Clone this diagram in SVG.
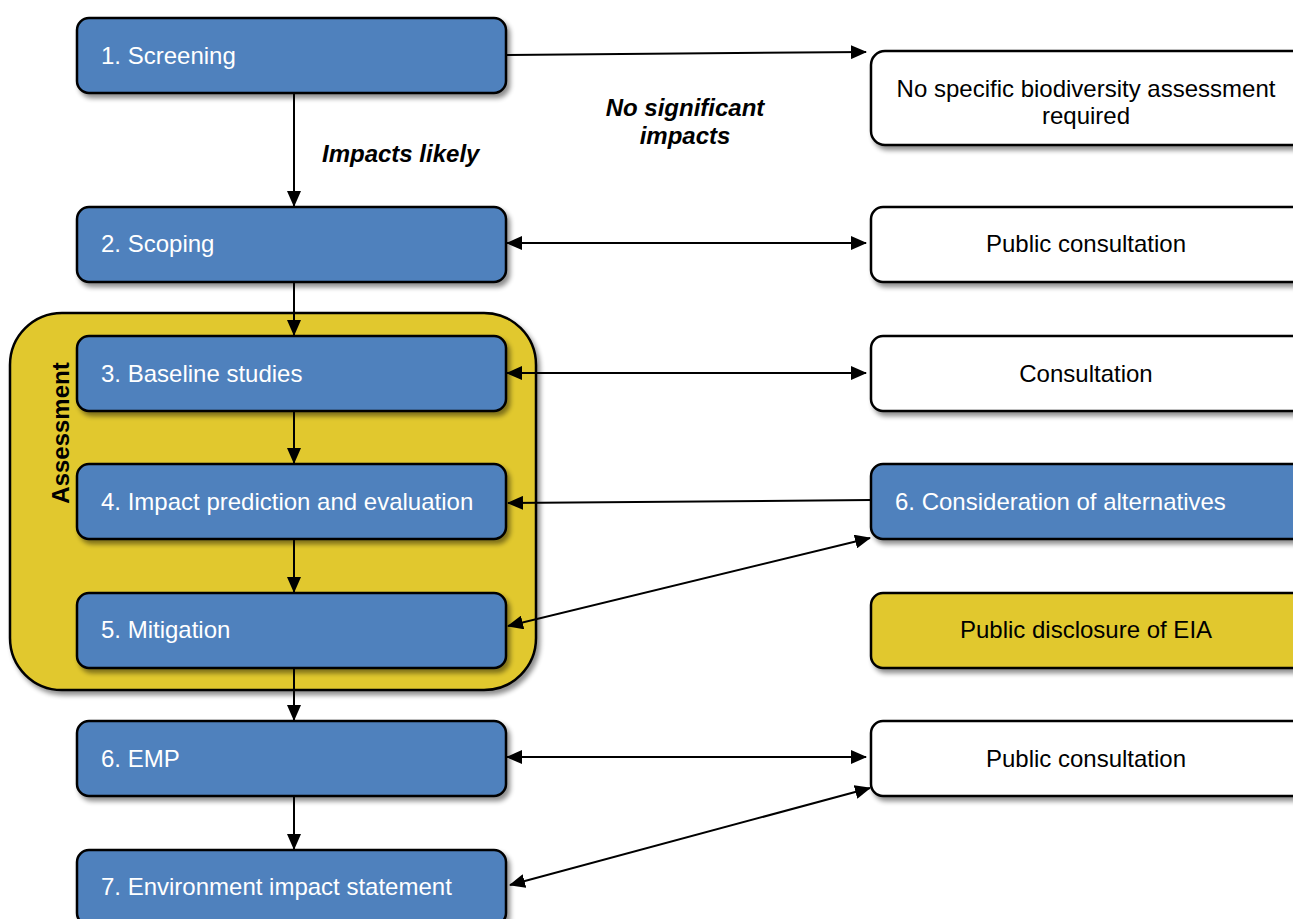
<svg xmlns="http://www.w3.org/2000/svg" width="1293" height="919" viewBox="0 0 1293 919">
<style>
.box{stroke:#000;stroke-width:2.5;filter:url(#sh)}
.blue{fill:#4F81BD}
.white{fill:#fff}
.yellow{fill:#E1C82E}
.lt{font-family:"Liberation Sans",Arial,sans-serif;font-size:24px;fill:#fff}
.rt{font-family:"Liberation Sans",Arial,sans-serif;font-size:24px;fill:#000;text-anchor:middle}
.lbl{font-family:"Liberation Sans",Arial,sans-serif;font-size:24px;font-weight:bold;font-style:italic;fill:#000}
.con{stroke:#000;stroke-width:2;fill:none}
</style>
<defs>
<filter id="sh" x="-10%" y="-20%" width="130%" height="150%">
<feGaussianBlur in="SourceAlpha" stdDeviation="2.5"/>
<feOffset dx="3" dy="4" result="b"/>
<feComponentTransfer><feFuncA type="linear" slope="0.45"/></feComponentTransfer>
<feMerge><feMergeNode/><feMergeNode in="SourceGraphic"/></feMerge>
</filter>
<marker id="a" viewBox="0 0 16 14" refX="15" refY="7" markerWidth="16" markerHeight="14" orient="auto-start-reverse" markerUnits="userSpaceOnUse">
<path d="M0,0 L16,7 L0,14 z" fill="#000"/>
</marker>
</defs>
<rect width="1293" height="919" fill="#fff"/>

<g id="assessment">
<rect class="box yellow" x="10" y="313" width="526" height="377" rx="52"/>
<text transform="translate(69,433) rotate(-90)" font-family="Liberation Sans,Arial,sans-serif" font-size="24" font-weight="bold" text-anchor="middle" fill="#000">Assessment</text>
</g>

<g id="n1"><rect class="box blue" x="77" y="18" width="429" height="75" rx="12"/><text class="lt" x="101" y="64">1. Screening</text></g>
<g id="n2"><rect class="box blue" x="77" y="207" width="429" height="75" rx="12"/><text class="lt" x="101" y="252">2. Scoping</text></g>
<g id="n3"><rect class="box blue" x="77" y="336" width="429" height="75" rx="12"/><text class="lt" x="101" y="382">3. Baseline studies</text></g>
<g id="n4"><rect class="box blue" x="77" y="464" width="429" height="75" rx="12"/><text class="lt" x="101" y="510">4. Impact prediction and evaluation</text></g>
<g id="n5"><rect class="box blue" x="77" y="593" width="429" height="75" rx="12"/><text class="lt" x="101" y="638">5. Mitigation</text></g>
<g id="n6"><rect class="box blue" x="77" y="721" width="429" height="75" rx="12"/><text class="lt" x="101" y="767">6. EMP</text></g>
<g id="n7"><rect class="box blue" x="77" y="850" width="429" height="75" rx="12"/><text class="lt" x="101" y="895">7. Environment impact statement</text></g>

<g id="r1"><rect class="box white" x="871" y="51" width="440" height="94" rx="14"/><text class="rt" x="1086" y="97">No specific biodiversity assessment</text><text class="rt" x="1086" y="124">required</text></g>
<g id="r2"><rect class="box white" x="871" y="207" width="440" height="75" rx="12"/><text class="rt" x="1086" y="252">Public consultation</text></g>
<g id="r3"><rect class="box white" x="871" y="336" width="440" height="75" rx="12"/><text class="rt" x="1086" y="382">Consultation</text></g>
<g id="r4"><rect class="box blue" x="871" y="464" width="440" height="75" rx="12"/><text class="lt" x="895" y="510">6. Consideration of alternatives</text></g>
<g id="r5"><rect class="box yellow" x="871" y="593" width="440" height="75" rx="12"/><text class="rt" x="1086" y="638">Public disclosure of EIA</text></g>
<g id="r6"><rect class="box white" x="871" y="721" width="440" height="75" rx="12"/><text class="rt" x="1086" y="767">Public consultation</text></g>

<g id="connectors">
<line class="con" x1="506" y1="55" x2="866" y2="52" marker-end="url(#a)"/>
<line class="con" x1="294" y1="93" x2="294" y2="206" marker-end="url(#a)"/>
<line class="con" x1="507" y1="243" x2="866" y2="243" marker-start="url(#a)" marker-end="url(#a)"/>
<line class="con" x1="294" y1="282" x2="294" y2="335" marker-end="url(#a)"/>
<line class="con" x1="507" y1="373" x2="866" y2="373" marker-start="url(#a)" marker-end="url(#a)"/>
<line class="con" x1="294" y1="411" x2="294" y2="463" marker-end="url(#a)"/>
<line class="con" x1="871" y1="500" x2="508" y2="503" marker-end="url(#a)"/>
<line class="con" x1="294" y1="539" x2="294" y2="592" marker-end="url(#a)"/>
<line class="con" x1="508" y1="626" x2="870" y2="538" marker-start="url(#a)" marker-end="url(#a)"/>
<line class="con" x1="294" y1="668" x2="294" y2="720" marker-end="url(#a)"/>
<line class="con" x1="507" y1="757" x2="866" y2="757" marker-start="url(#a)" marker-end="url(#a)"/>
<line class="con" x1="294" y1="796" x2="294" y2="849" marker-end="url(#a)"/>
<line class="con" x1="510" y1="885" x2="870" y2="788" marker-start="url(#a)" marker-end="url(#a)"/>
<text class="lbl" x="322" y="162">Impacts likely</text>
<text class="lbl" x="685" y="116" text-anchor="middle">No significant</text>
<text class="lbl" x="685" y="144" text-anchor="middle">impacts</text>
</g>
</svg>
